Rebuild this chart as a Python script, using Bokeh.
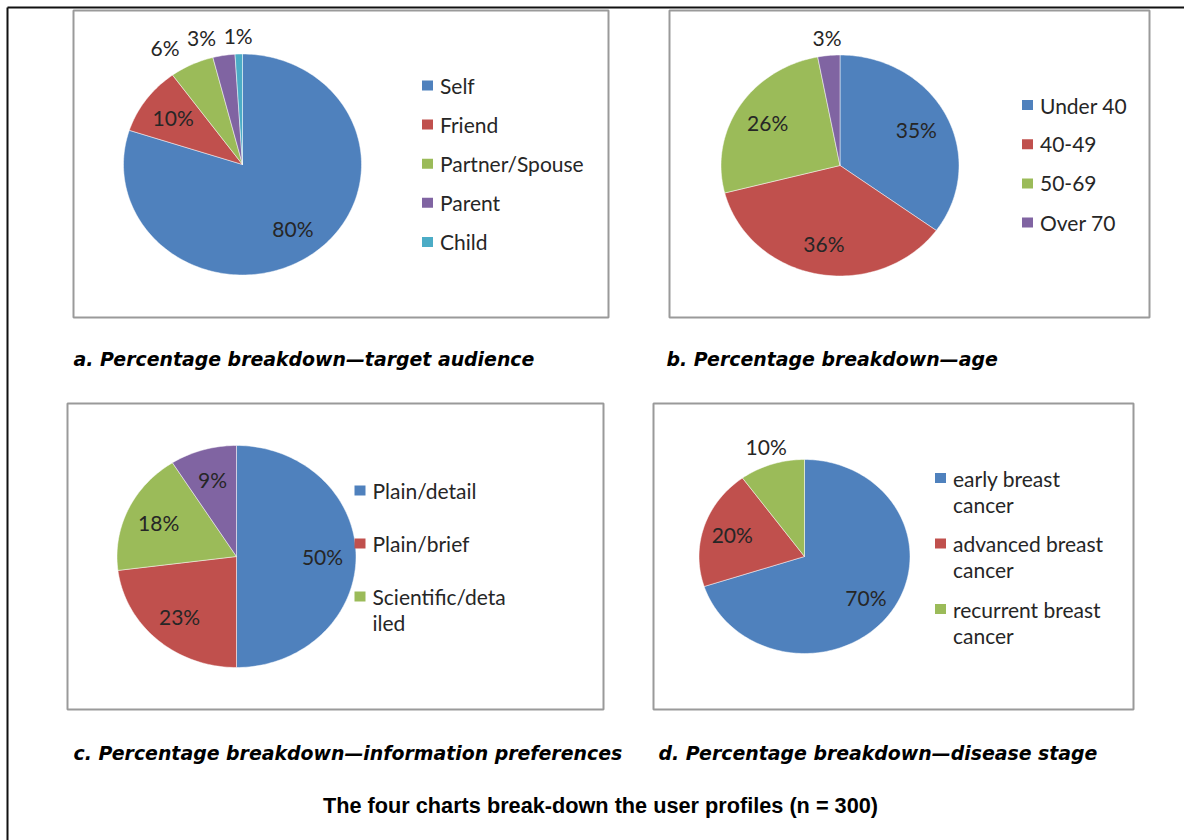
import math
from bokeh.plotting import figure
from bokeh.models import Range1d
from bokeh.embed import file_html
from bokeh.resources import INLINE
from bokeh.core.properties import value

# ---------------- data ----------------
audience_labels = ["Self", "Friend", "Partner/Spouse", "Parent", "Child"]
audience_values = [80, 10, 6, 3, 1]

age_labels = ["Under 40", "40-49", "50-69", "Over 70"]
age_values = [35, 36, 26, 3]

info_labels = ["Plain/detail", "Plain/brief", "Scientific/detailed", "Scientific/brief"]
info_values = [50, 23, 18, 9]
info_legend_text = ["Plain/detail", "Plain/brief", "Scientific/deta\niled"]

stage_labels = ["early breast cancer", "advanced breast cancer", "recurrent breast cancer"]
stage_values = [70, 20, 10]
stage_legend_text = ["early breast\ncancer", "advanced breast\ncancer", "recurrent breast\ncancer"]

captions = [
    "a. Percentage breakdown\u2014target audience",
    "b. Percentage breakdown\u2014age",
    "c. Percentage breakdown\u2014information preferences",
    "d. Percentage breakdown\u2014disease stage",
]
main_title = "The four charts break-down the user profiles (n = 300)"

# ---------------- style / layout ----------------
COLORS = ["#4F81BD", "#C0504D", "#9BBB59", "#8064A2", "#4BACC6"]
TXT = "#262626"
FONT = "Lato"
FS = 21

panels = [
    dict(values=audience_values, legend=audience_labels, box=(73, 10, 608, 317),
         c=(242, 164), rx=119, ry=110.5, leg_x=427, leg_y=85, leg_step=39.1, leg_lh=26,
         cap=captions[0], cap_xy=(73, 358)),
    dict(values=age_values, legend=age_labels, box=(669, 10, 1149, 317),
         c=(839.5, 165), rx=119, ry=110.5, leg_x=1027, leg_y=104.5, leg_step=39.2, leg_lh=26,
         cap=captions[1], cap_xy=(666, 358)),
    dict(values=info_values, legend=info_legend_text, box=(67, 403, 603, 709),
         c=(236, 556), rx=119.5, ry=111, leg_x=359.5, leg_y=490, leg_step=53, leg_lh=25.5,
         cap=captions[2], cap_xy=(73, 752)),
    dict(values=stage_values, legend=stage_legend_text, box=(653, 403, 1133, 709),
         c=(804, 556), rx=105.5, ry=97, leg_x=940, leg_y=477.5, leg_step=65.5, leg_lh=26,
         cap=captions[3], cap_xy=(658, 752)),
]

W, H = 1184, 840
p = figure(width=W, height=H, x_range=Range1d(0, W), y_range=Range1d(H, 0),
           output_backend="svg", toolbar_location=None, min_border=0,
           x_axis_location=None, y_axis_location=None)
p.grid.visible = False
p.outline_line_color = None
p.background_fill_color = "white"
p.border_fill_color = "white"

# outer frame (left and top only)
p.segment(x0=[7, 7], y0=[7, 7], x1=[7, W], y1=[H, 7],
          line_color="#111111", line_width=2)


def corner_fits(dx, dy, a0, a1, rx, ry, margin=2.0):
    th = math.atan2(dx, -dy) % (2 * math.pi)
    if not (a0 <= th <= a1):
        return False
    if (dx / rx) ** 2 + (dy / ry) ** 2 > 0.95:
        return False
    if a1 - a0 < math.pi:
        for a in (a0, a1):
            d = abs(dx * (-math.cos(a)) - dy * math.sin(a))
            if d < margin:
                return False
    return True


def pie_labels(values, cx, cy, rx, ry, fs):
    total = float(sum(values))
    out = []
    cum = 0.0
    for i, v in enumerate(values):
        t = f"{v}%"
        a0 = 2 * math.pi * cum / total
        a1 = 2 * math.pi * (cum + v) / total
        cum += v
        am = (a0 + a1) / 2
        ux, uy = math.sin(am), -math.cos(am)
        w, h = 0.68 * fs * len(t), fs
        dx, dy = 0.72 * rx * ux, 0.72 * ry * uy
        ok = all(corner_fits(dx + sx * w / 2, dy + sy * h / 2, a0, a1, rx, ry)
                 for sx in (-1, 1) for sy in (-1, 1))
        if ok:
            out.append(dict(t=t, x=cx + dx, y=cy + dy, w=w, h=h, outside=False))
        else:
            off = 0.5 * fs + 8
            out.append(dict(t=t, x=cx + rx * ux + ux * off, y=cy + ry * uy + uy * off,
                            w=w, h=h, outside=True))
    # resolve collisions among outside labels (from the last slice backwards)
    placed = []
    gap = 8
    for lab in reversed(out):
        if not lab["outside"]:
            continue
        for _ in range(3):
            for q in placed:
                if abs(lab["y"] - q["y"]) < (lab["h"] + q["h"]) / 2 and \
                        abs(lab["x"] - q["x"]) < (lab["w"] + q["w"]) / 2 + gap:
                    if lab["x"] <= cx:
                        lab["x"] = q["x"] - (lab["w"] + q["w"]) / 2 - gap
                    else:
                        lab["x"] = q["x"] + (lab["w"] + q["w"]) / 2 + gap
        placed.append(lab)
    return out


for pn in panels:
    l, t, r, b = pn["box"]
    p.quad(left=[l], right=[r], top=[t], bottom=[b], fill_color="white",
           line_color="#9a9a9a", line_width=2)

    cx, cy = pn["c"]
    rx, ry = pn["rx"], pn["ry"]
    vals = pn["values"]
    total = float(sum(vals))
    xs, ys, cols = [], [], []
    cum = 0.0
    for i, v in enumerate(vals):
        a0 = 2 * math.pi * cum / total
        a1 = 2 * math.pi * (cum + v) / total
        cum += v
        n = max(4, int(240 * (a1 - a0) / (2 * math.pi)))
        px = [cx] + [cx + rx * math.sin(a0 + (a1 - a0) * k / n) for k in range(n + 1)]
        py = [cy] + [cy - ry * math.cos(a0 + (a1 - a0) * k / n) for k in range(n + 1)]
        xs.append(px)
        ys.append(py)
        cols.append(COLORS[i])
    p.patches(xs=xs, ys=ys, fill_color=cols, line_color="white", line_width=0.8,
              line_alpha=0.6)

    labs = pie_labels(vals, cx, cy, rx, ry, FS)
    p.text(x=[d["x"] for d in labs], y=[d["y"] for d in labs], text=[d["t"] for d in labs],
           text_font=value(FONT), text_font_size=value(f"{FS}px"), text_color=TXT,
           text_align="center", text_baseline="middle")

    # legend
    sq_x, sq_y = [], []
    lx, ly, lt = [], [], []
    for i, entry in enumerate(pn["legend"]):
        y0 = pn["leg_y"] + i * pn["leg_step"]
        sq_x.append(pn["leg_x"])
        sq_y.append(y0)
        for j, line in enumerate(entry.split("\n")):
            lx.append(pn["leg_x"] + 12.5)
            ly.append(y0 + j * pn["leg_lh"])
            lt.append(line)
    p.quad(left=[x - 5.5 for x in sq_x], right=[x + 5.5 for x in sq_x],
           top=[y - 5 for y in sq_y], bottom=[y + 5 for y in sq_y],
           fill_color=COLORS[:len(sq_x)], line_color=None)
    p.text(x=lx, y=ly, text=lt, text_font=value(FONT), text_font_size=value(f"{FS}px"),
           text_color=TXT, text_align="left", text_baseline="middle")

    # caption
    p.text(x=[pn["cap_xy"][0]], y=[pn["cap_xy"][1]], text=[pn["cap"]],
           text_font=value("DejaVu Sans"), text_font_size=value("18.9px"),
           text_font_style="bold italic",
           text_color="black", text_align="left", text_baseline="middle")

p.text(x=[600], y=[805], text=[main_title], text_font=value("Liberation Sans"),
       text_font_size=value("21.7px"), text_font_style="bold", text_color="black",
       text_align="center", text_baseline="middle")

open("out.html", "w").write(file_html(p, INLINE))
